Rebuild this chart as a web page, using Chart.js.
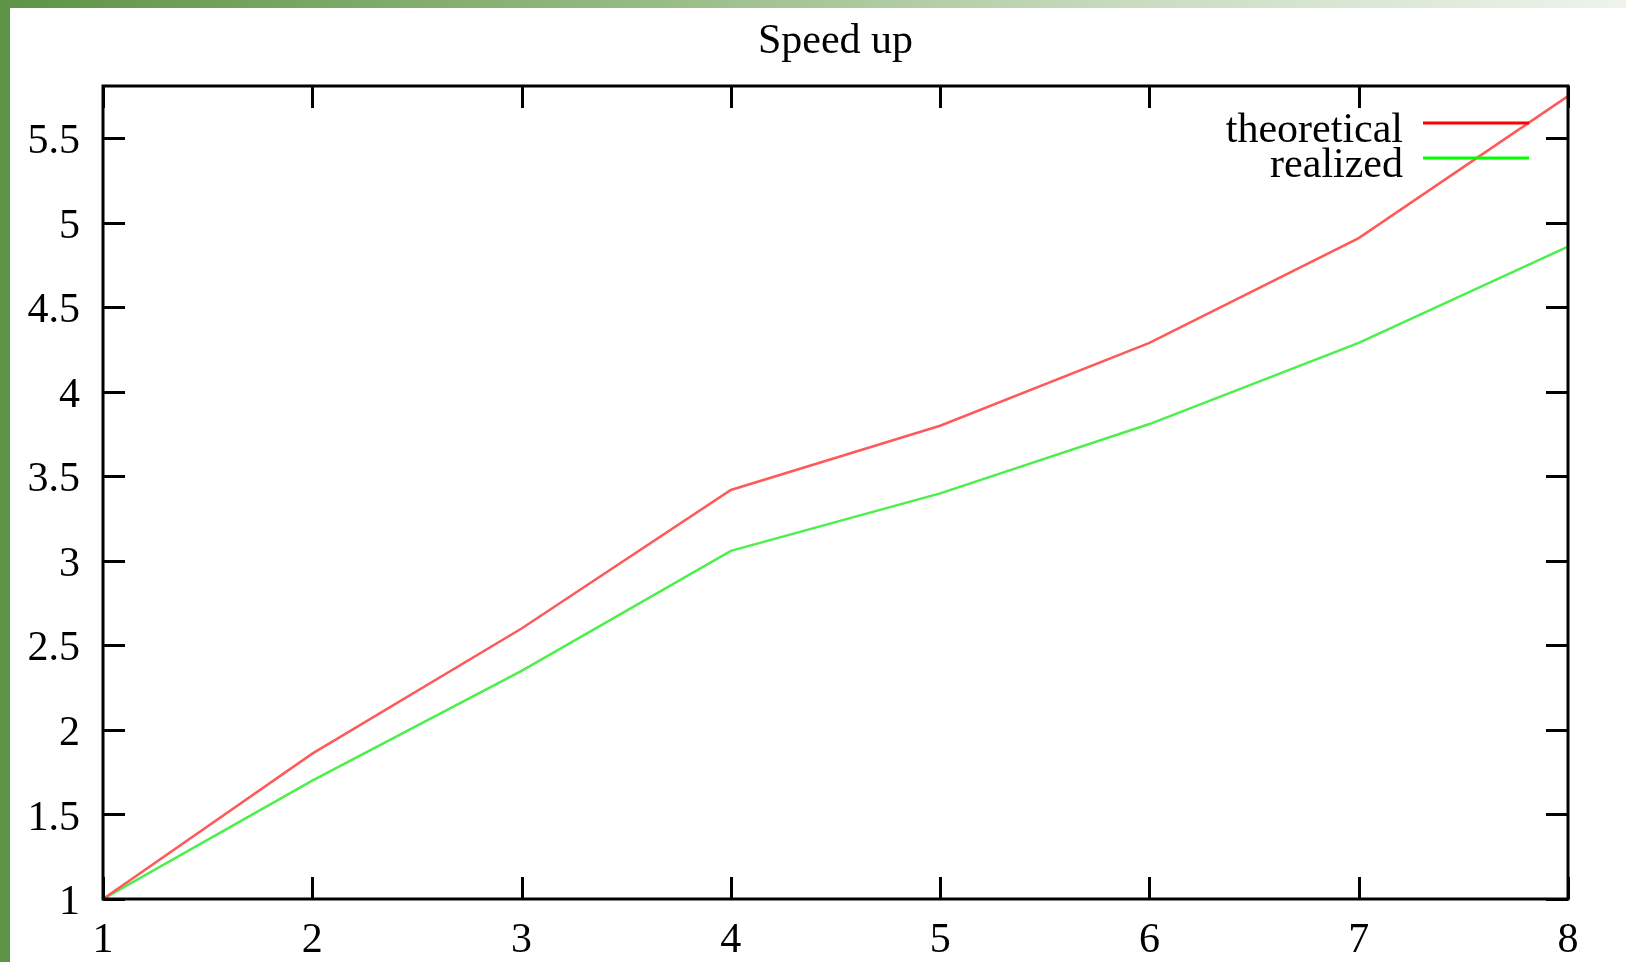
<!DOCTYPE html>
<html>
<head>
<meta charset="utf-8">
<script src="https://cdn.jsdelivr.net/npm/chart.js@4/dist/chart.umd.min.js"></script>
<style>
  html, body { margin: 0; padding: 0; background: #fff; overflow: hidden; }
  #wrap { position: relative; width: 1626px; height: 962px; }
  #topbar { position: absolute; left: 0; top: 0; width: 1626px; height: 8px;
    background: linear-gradient(to right, #5e9446 0%, #8fb67c 35%, #c9dcc0 70%, #eef4ec 100%); }
  #sidebar { position: absolute; left: 0; top: 0; width: 10px; height: 962px; background: #5e9446; }
</style>
</head>
<body>
<div id="wrap">
  <canvas id="chart" width="1626" height="962"></canvas>
  <div id="topbar"></div>
  <div id="sidebar"></div>
</div>
<script>
const titleText = 'Speed up';
const threads = [1, 2, 3, 4, 5, 6, 7, 8];
const theoretical = [1, 1.86, 2.60, 3.42, 3.80, 4.29, 4.91, 5.75];
const realized = [1, 1.70, 2.35, 3.06, 3.40, 3.81, 4.29, 4.86];
const xTicks = [1, 2, 3, 4, 5, 6, 7, 8];
const yTicks = [1, 1.5, 2, 2.5, 3, 3.5, 4, 4.5, 5, 5.5];
const seriesNames = ['theoretical', 'realized'];
const lineColors = ['#ff5a5a', '#4cf04c'];
const legendColors = ['#ff0000', '#00ff00'];

const FONT = '"Liberation Serif", "DejaVu Serif", serif';

// gnuplot style frame with inward ticks on all four sides
const framePlugin = {
  id: 'frame',
  afterDatasetsDraw(chart) {
    const { ctx, chartArea: a, scales } = chart;
    const len = 22;
    ctx.save();
    ctx.strokeStyle = '#000';
    ctx.lineWidth = 3;
    ctx.strokeRect(a.left, a.top, a.right - a.left, a.bottom - a.top);
    ctx.beginPath();
    xTicks.forEach(v => {
      const x = Math.round(scales.x.getPixelForValue(v)) + 0.5;
      ctx.moveTo(x, a.bottom); ctx.lineTo(x, a.bottom - len);
      ctx.moveTo(x, a.top); ctx.lineTo(x, a.top + len);
    });
    yTicks.forEach(v => {
      const y = Math.round(scales.y.getPixelForValue(v)) + 0.5;
      ctx.moveTo(a.left, y); ctx.lineTo(a.left + len, y);
      ctx.moveTo(a.right, y); ctx.lineTo(a.right - len, y);
    });
    ctx.stroke();
    ctx.restore();
  },
  afterDraw(chart) {
    const { ctx, chartArea: a } = chart;
    ctx.save();
    ctx.fillStyle = '#000';
    ctx.font = '42px ' + FONT;
    ctx.textAlign = 'center';
    ctx.textBaseline = 'alphabetic';
    ctx.fillText(titleText, (a.left + a.right) / 2, 53);

    // legend: text then line sample, like gnuplot
    ctx.textAlign = 'right';
    chart.data.datasets.forEach((ds, i) => {
      ctx.fillStyle = '#000';
      ctx.fillText(ds.label, 1403, 142 + i * 35);
      ctx.strokeStyle = legendColors[i];
      ctx.lineWidth = 3;
      ctx.beginPath();
      ctx.moveTo(1423, 123 + i * 35);
      ctx.lineTo(1529, 123 + i * 35);
      ctx.stroke();
    });
    ctx.restore();
  }
};

new Chart(document.getElementById('chart'), {
  type: 'line',
  data: {
    datasets: [
      {
        label: seriesNames[0],
        data: threads.map((t, i) => ({ x: t, y: theoretical[i] })),
        borderColor: lineColors[0],
        borderWidth: 2.5,
        pointRadius: 0,
        tension: 0
      },
      {
        label: seriesNames[1],
        data: threads.map((t, i) => ({ x: t, y: realized[i] })),
        borderColor: lineColors[1],
        borderWidth: 2.5,
        pointRadius: 0,
        tension: 0
      }
    ]
  },
  options: {
    responsive: false,
    animation: false,
    layout: { padding: { left: 0, top: 86, right: 58, bottom: 0 } },
    plugins: {
      legend: { display: false },
      title: { display: false },
      tooltip: { enabled: false }
    },
    scales: {
      x: {
        type: 'linear',
        min: 1,
        max: 8,
        afterBuildTicks: s => { s.ticks = xTicks.map(v => ({ value: v })); },
        afterFit: s => { s.height = 63; },
        grid: { display: false, drawTicks: false },
        border: { display: false },
        ticks: {
          color: '#000',
          padding: 17,
          maxRotation: 0,
          autoSkip: false,
          font: { family: FONT, size: 42 },
          callback: v => String(v)
        }
      },
      y: {
        type: 'linear',
        min: 1,
        max: 5.81,
        afterBuildTicks: s => { s.ticks = yTicks.map(v => ({ value: v })); },
        afterFit: s => { s.width = 103; },
        grid: { display: false, drawTicks: false },
        border: { display: false },
        ticks: {
          color: '#000',
          padding: 23,
          labelOffset: 4,
          autoSkip: false,
          font: { family: FONT, size: 42 },
          callback: v => String(v)
        }
      }
    }
  },
  plugins: [framePlugin]
});
</script>
</body>
</html>
